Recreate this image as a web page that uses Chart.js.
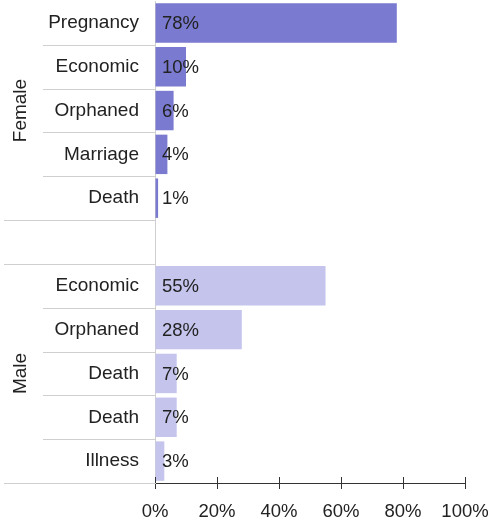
<!DOCTYPE html>
<html>
<head>
<meta charset="utf-8">
<script src="https://cdn.jsdelivr.net/npm/chart.js@4.4.1/dist/chart.umd.min.js"></script>
<style>
  html, body { margin: 0; padding: 0; background: #fff; }
  #wrap { width: 492px; height: 521px; }
</style>
</head>
<body>
<div id="wrap"><canvas id="chart"></canvas></div>
<script>
  // reasons, per group, in percent
  var femaleReasons = ["Pregnancy", "Economic", "Orphaned", "Marriage", "Death"];
  var femaleShares = [78, 10, 6, 4, 1];
  var maleReasons = ["Economic", "Orphaned", "Death", "Death", "Illness"];
  var maleShares = [55, 28, 7, 7, 3];
  var groupNames = ["Female", "Male"];
  var xTicks = [0, 20, 40, 60, 80, 100];

  var FEMALE_COLOR = "#7a7ad0";
  var MALE_COLOR = "#c4c4ec";
  var LINE_COLOR = "#cfcfcf";
  var FONT = "'Liberation Sans', Arial, sans-serif";
  var LABEL_SIZE = 19;
  var VALUE_SIZE = 18.5;

  // one blank row between the two groups
  var labels = femaleReasons.concat([""], maleReasons);
  var values = femaleShares.concat([null], maleShares);
  var colors = femaleReasons.map(function () { return FEMALE_COLOR; })
    .concat([null], maleReasons.map(function () { return MALE_COLOR; }));
  var groupRanges = [
    [0, femaleReasons.length - 1],
    [femaleReasons.length + 1, labels.length - 1]
  ];

  // left table lines, group captions, value labels, inner tick halves
  var tablePlugin = {
    id: "table",
    afterDraw: function (chart) {
      var ctx = chart.ctx;
      var y = chart.scales.y;
      var x = chart.scales.x;
      var area = chart.chartArea;
      var step = y.getPixelForValue(1) - y.getPixelForValue(0);

      ctx.save();
      ctx.strokeStyle = LINE_COLOR;
      ctx.lineWidth = 1;
      for (var i = 0; i < labels.length; i++) {
        var yy = Math.round(y.getPixelForValue(i) + step / 2) + 0.5;
        // group edges run across the caption column too
        var isEdge = i === femaleReasons.length - 1 || i === femaleReasons.length || i === labels.length - 1;
        ctx.beginPath();
        ctx.moveTo(isEdge ? 4 : 43, yy);
        ctx.lineTo(area.left, yy);
        ctx.stroke();
      }

      ctx.fillStyle = "#222";
      ctx.font = LABEL_SIZE + "px " + FONT;
      ctx.textAlign = "center";
      ctx.textBaseline = "middle";
      groupRanges.forEach(function (r, g) {
        var cy = (y.getPixelForValue(r[0]) + y.getPixelForValue(r[1])) / 2;
        ctx.save();
        ctx.translate(21, cy);
        ctx.rotate(-Math.PI / 2);
        ctx.fillText(groupNames[g], 0, 0);
        ctx.restore();
      });

      // value labels inside the bars
      ctx.font = VALUE_SIZE + "px " + FONT;
      ctx.textAlign = "left";
      values.forEach(function (v, i) {
        if (v === null) return;
        ctx.fillText(v + "%", x.getPixelForValue(0) + 7, y.getPixelForValue(i) + 1);
      });

      // tick marks also reach above the axis line
      ctx.strokeStyle = "#333";
      xTicks.forEach(function (t) {
        var xx = Math.round(x.getPixelForValue(t)) + 0.5;
        ctx.beginPath();
        ctx.moveTo(xx, area.bottom - 6);
        ctx.lineTo(xx, area.bottom);
        ctx.stroke();
      });
      ctx.restore();
    }
  };

  new Chart(document.getElementById("chart"), {
    type: "bar",
    data: {
      labels: labels,
      datasets: [{
        data: values,
        backgroundColor: colors,
        barPercentage: 0.9,
        categoryPercentage: 1
      }]
    },
    options: {
      indexAxis: "y",
      responsive: true,
      maintainAspectRatio: false,
      animation: false,
      layout: { padding: { top: 1, right: 27, left: 0, bottom: 0 } },
      plugins: { legend: { display: false }, tooltip: { enabled: false } },
      scales: {
        x: {
          min: 0,
          max: 100,
          afterFit: function (s) {
            s.height = 38;
            s.paddingLeft = 0;
            s.paddingRight = 0;
          },
          afterBuildTicks: function (s) {
            s.ticks = xTicks.map(function (v) { return { value: v }; });
          },
          grid: { drawOnChartArea: false, tickLength: 6, color: "#333" },
          border: { color: "#333" },
          ticks: {
            padding: 12,
            color: "#222",
            font: { size: VALUE_SIZE, family: FONT },
            callback: function (v) { return v + "%"; }
          }
        },
        y: {
          afterFit: function (s) {
            s.width = 155;
            s.paddingTop = 0;
            s.paddingBottom = 0;
          },
          grid: { display: false },
          border: { color: LINE_COLOR },
          ticks: {
            padding: 8,
            color: "#222",
            autoSkip: false,
            font: { size: LABEL_SIZE, family: FONT }
          }
        }
      }
    },
    plugins: [tablePlugin]
  });
</script>
</body>
</html>
